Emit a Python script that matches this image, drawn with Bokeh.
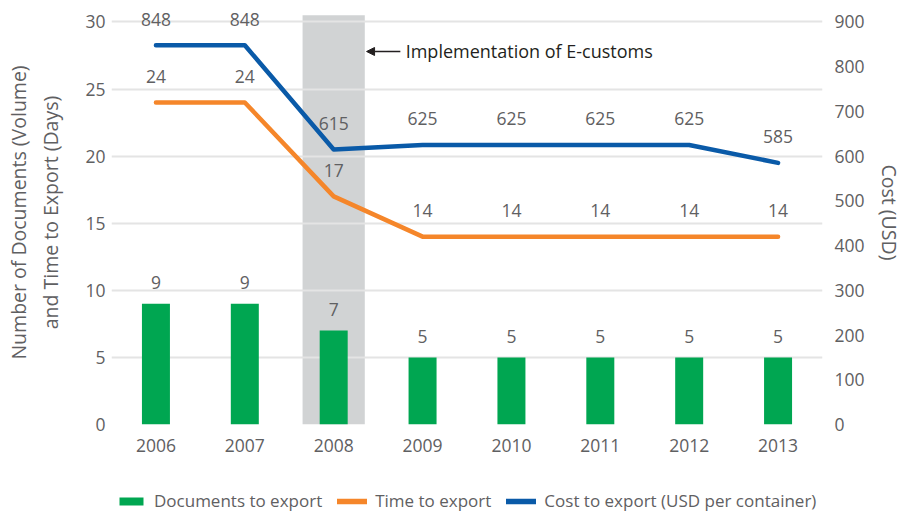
from bokeh.plotting import figure
from bokeh.layouts import column
from bokeh.models import (Range1d, LinearAxis, FixedTicker, BoxAnnotation, Arrow,
                          NormalHead, Label, Legend, LegendItem, ColumnDataSource)
from bokeh.core.properties import value
from bokeh.embed import file_html
from bokeh.resources import INLINE

# ---- data ----
years = ["2006", "2007", "2008", "2009", "2010", "2011", "2012", "2013"]
documents = [9, 9, 7, 5, 5, 5, 5, 5]
time_days = [24, 24, 17, 14, 14, 14, 14, 14]
cost_usd = [848, 848, 615, 625, 625, 625, 625, 585]
highlight_year = "2008"
annotation_text = "Implementation of E-customs"
series_names = ["Documents to export", "Time to export",
                "Cost to export (USD per container)"]
left_ticks = [0, 5, 10, 15, 20, 25, 30]
right_ticks = [0, 100, 200, 300, 400, 500, 600, 700, 800, 900]

# ---- styles ----
FONT = "Open Sans"
TXT = "#5f6062"
DARK = "#231f20"
GREEN = "#00a651"
ORANGE = "#f5862a"
BLUE = "#0a5aa8"
BAND = "#d1d3d4"
GRID = "#e4e4e4"
Y_MAX = 31.6          # left axis range end (frame top)
BAND_TOP = 30.5       # top of shaded band
RIGHT_SCALE = 30.0    # right axis units per left axis unit
BORDER_L, BORDER_R = 111, 82

xs = list(range(len(years)))
src = ColumnDataSource(dict(
    x=xs, docs=documents, days=time_days, cost=cost_usd,
    docs_lbl=[str(v) for v in documents],
    days_lbl=[str(v) for v in time_days],
    cost_lbl=[str(v) for v in cost_usd],
))

p = figure(width=905, height=470, output_backend="svg", toolbar_location=None,
           x_range=Range1d(-0.5, len(years) - 0.5), y_range=Range1d(0, Y_MAX),
           min_border_left=BORDER_L, min_border_right=BORDER_R, min_border_top=0,
           min_border_bottom=46)
p.extra_y_ranges = {"cost": Range1d(0, Y_MAX * RIGHT_SCALE)}
p.outline_line_color = None
p.xgrid.visible = False
p.ygrid.ticker = FixedTicker(ticks=left_ticks)
p.ygrid.grid_line_color = GRID
p.ygrid.grid_line_width = 2
p.ygrid.level = "underlay"

# highlight band
hi = years.index(highlight_year)
band_w = 0.7
p.add_layout(BoxAnnotation(left=hi - band_w / 2, right=hi + band_w / 2,
                           bottom=0, top=BAND_TOP,
                           fill_color=BAND, fill_alpha=1, line_color=None,
                           level="image"))

bars = p.vbar(x="x", top="docs", width=0.315, source=src, fill_color=GREEN,
              line_color=None)
l_time = p.line(x="x", y="days", source=src, line_color=ORANGE, line_width=4.5,
                line_join="round", line_cap="round")
l_cost = p.line(x="x", y="cost", source=src, line_color=BLUE, line_width=4.5,
                line_join="round", line_cap="round", y_range_name="cost")

lbl_kw = dict(text_align="center", text_baseline="middle",
              text_font=value(FONT), text_font_size="17.5px", text_color=TXT)
p.text(x="x", y="docs", text="docs_lbl", source=src, y_offset=-21, **lbl_kw)
p.text(x="x", y="days", text="days_lbl", source=src, y_offset=-26, **lbl_kw)
p.text(x="x", y="cost", text="cost_lbl", source=src, y_offset=-26,
       y_range_name="cost", **lbl_kw)

# annotation
tip = hi + band_w / 2
tail = tip + 0.4
ann_y = 27.8
p.add_layout(Arrow(end=NormalHead(size=8, fill_color=DARK, line_color=DARK),
                   x_start=tail, y_start=ann_y, x_end=tip + 0.02, y_end=ann_y,
                   line_color=DARK, line_width=1.7))
p.add_layout(Label(x=tail + 0.06, y=ann_y, text=annotation_text,
                   text_baseline="middle", text_font=FONT, text_font_size="18px",
                   text_color=DARK))

def style_axis(ax):
    ax.axis_line_color = None
    ax.major_tick_line_color = None
    ax.minor_tick_line_color = None
    ax.major_tick_out = 0
    ax.major_tick_in = 0
    ax.minor_tick_out = 0
    ax.minor_tick_in = 0
    ax.major_label_text_font = FONT
    ax.major_label_text_font_size = "17.5px"
    ax.major_label_text_color = TXT
    ax.axis_label_text_font = FONT
    ax.axis_label_text_font_style = "normal"
    ax.axis_label_text_font_size = "19.5px"
    ax.axis_label_text_color = TXT

# x axis
xa = p.xaxis[0]
xa.ticker = FixedTicker(ticks=xs)
xa.major_label_overrides = {i: y for i, y in enumerate(years)}
style_axis(xa)
xa.major_label_standoff = 14

# left axis
ya = p.yaxis[0]
ya.ticker = FixedTicker(ticks=left_ticks)
style_axis(ya)
ya.major_label_standoff = 6
ya.axis_label = "Number of Documents (Volume)\nand Time to Export (Days)"
ya.axis_label_standoff = 18

# right axis
ra = LinearAxis(y_range_name="cost", ticker=FixedTicker(ticks=right_ticks),
                axis_label="Cost (USD)")
style_axis(ra)
ra.major_label_standoff = 12
ra.axis_label_standoff = 8
p.add_layout(ra, "right")

# ---- legend strip below the chart (same series styles, drawn out of view) ----
pl = figure(width=905, height=48, output_backend="svg", toolbar_location=None,
            x_range=Range1d(-0.5, len(years) - 0.5), y_range=Range1d(5000, 5001),
            x_axis_location=None, y_axis_location=None,
            min_border_left=BORDER_L, min_border_right=BORDER_R,
            min_border_top=0, min_border_bottom=0)
pl.outline_line_color = None
pl.grid.visible = False
g1 = pl.vbar(x="x", top="docs", width=0.315, source=src, fill_color=GREEN,
             line_color=None)
g2 = pl.line(x="x", y="days", source=src, line_color=ORANGE, line_width=5.5,
             line_cap="round")
g3 = pl.line(x="x", y="cost", source=src, line_color=BLUE, line_width=5.5,
             line_cap="round")
legend = Legend(items=[
    LegendItem(label=series_names[0], renderers=[g1]),
    LegendItem(label=series_names[1], renderers=[g2]),
    LegendItem(label=series_names[2], renderers=[g3]),
], orientation="horizontal", location=(5, 6), margin=0, padding=0,
    spacing=15, label_standoff=8, glyph_width=30, glyph_height=10,
    label_text_font=FONT, label_text_font_size="17px", label_text_color=TXT,
    border_line_color=None, background_fill_alpha=0)
pl.add_layout(legend)

layout = column(p, pl, spacing=0)
open("out.html", "w").write(file_html(layout, INLINE))
